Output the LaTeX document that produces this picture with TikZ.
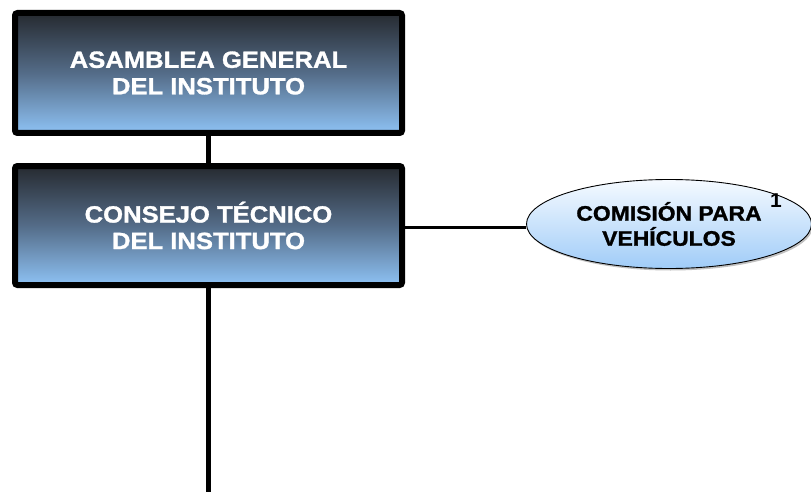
\documentclass[tikz,border=0pt]{standalone}
\usepackage{fontspec}
\setmainfont{Liberation Sans}
\newfontfamily\boxfont[FakeStretch=1.09,FakeBold=1.3]{Liberation Sans Bold}
\newfontfamily\footmarkfont[FakeStretch=1.05]{Liberation Sans Bold}
\usetikzlibrary{shapes.geometric,shadows}
\definecolor{boxtop}{RGB}{38,42,48}
\definecolor{boxmid}{RGB}{84,108,136}
\definecolor{boxbot}{RGB}{142,194,244}
\definecolor{elltop}{RGB}{245,250,255}
\definecolor{ellbot}{RGB}{160,204,248}
\tikzset{
  orgbox/.style={rectangle, rounded corners=2.5pt, draw=black, line width=6pt,
    top color=boxtop, bottom color=boxbot, middle color=boxmid,
    minimum width=387pt, inner sep=0pt, align=center, text=white,
    font=\boxfont\fontsize{23.5}{26.5}\selectfont,
    drop shadow={shadow xshift=1.5pt, shadow yshift=-1.5pt, fill=gray!70, opacity=0.8}},
  commell/.style={ellipse, draw=black, line width=0.9pt,
    top color=elltop, bottom color=ellbot,
    minimum width=285pt, minimum height=89pt, inner sep=0pt, align=center,
    font=\boxfont\fontsize{21}{25}\selectfont,
    drop shadow={shadow xshift=1.5pt, shadow yshift=-2pt, fill=gray!60, opacity=0.8}},
  thickline/.style={line width=5.5pt, draw=black},
  thinline/.style={line width=3pt, draw=black},
  supnote/.style={font=\footmarkfont\fontsize{20}{20}\selectfont, inner sep=0pt}
}
\begin{document}
\begin{tikzpicture}[x=1pt,y=-1pt]
\useasboundingbox (0,0) rectangle (811,492);
\coordinate (bottomend) at (208.5,495);
\coordinate (hy) at (0,227);
\node[orgbox, minimum height=120pt] (asamblea) at (208.5,73) {ASAMBLEA GENERAL\\DEL INSTITUTO};
\node[orgbox, minimum height=119pt] (consejo) at (208.5,225.5) {CONSEJO TÉCNICO\\DEL INSTITUTO};
\node[commell] (comision) at (669,224) {COMISIÓN PARA\\VEHÍCULOS};
\node[supnote] (nota) at (776,200.5) {1};
\draw[thickline] (asamblea.south) -- (consejo.north);
\draw[thickline] (consejo.south) -- (bottomend);
\draw[thinline] (consejo.east |- hy) -- (comision.west |- hy);
\end{tikzpicture}
\end{document}
